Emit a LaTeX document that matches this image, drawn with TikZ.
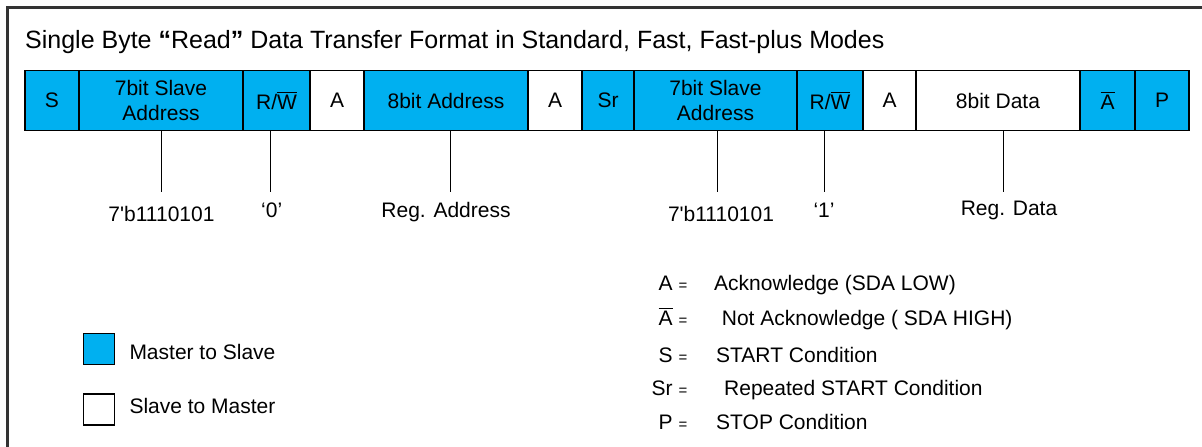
\documentclass[tikz,border=0pt]{standalone}
\usepackage{amsmath}
\usepackage{fontspec}
\setmainfont{Liberation Sans}[Ligatures=TeXOff]
\usepackage{tikz}

\definecolor{mastblue}{HTML}{00B0F0}
\newcommand{\nackbar}{\ensuremath{\overline{\mbox{A}}}}
\newcommand{\rwbar}{R/\ensuremath{\overline{\mbox{W}}}}
\newcommand{\smalleq}{{\fontsize{15}{15}\selectfont =}}

\begin{document}
\begin{tikzpicture}[x=1pt,y=-1pt,
    field/.style={draw=black, line width=1.7pt, minimum height=60pt, inner sep=0pt,
        align=center, font=\fontsize{21}{25}\selectfont},
    mfield/.style={field, fill=mastblue},
    sfield/.style={field, fill=white},
    val/.style={inner sep=0pt, anchor=base, font=\fontsize{21}{25}\selectfont}]
    \useasboundingbox (0,0) rectangle (1202,447);
    % Outer frame, cut at right and bottom
    \draw[line width=2.2pt, black!80] (7.5,470) -- (7.5,7.5) -- (1230,7.5);
    \node[anchor=base west, inner sep=0pt, font=\fontsize{25}{28}\selectfont] (title) at (25,48.5)
        {Single Byte \textbf{“}Read\textbf{”} Data Transfer Format in Standard, Fast, Fast-plus Modes};

    % Frame fields
    \node[mfield, minimum width=54]  (start) at (52,100.5)     {S};
    \node[mfield, minimum width=164] (addr1) at (161,100.5)    {7bit Slave\\Address};
    \node[mfield, minimum width=67]  (rw1)   at (276.5,100.5)  {\rwbar};
    \node[sfield, minimum width=54]  (ack1)  at (337,100.5)    {A};
    \node[mfield, minimum width=164] (reg)   at (446,100.5)    {8bit Address};
    \node[sfield, minimum width=54]  (ack2)  at (555,100.5)    {A};
    \node[mfield, minimum width=52]  (rstart) at (608,100.5)   {Sr};
    \node[mfield, minimum width=163] (addr2) at (715.5,100.5)  {7bit Slave\\Address};
    \node[mfield, minimum width=66]  (rw2)   at (830,100.5)    {\rwbar};
    \node[sfield, minimum width=53]  (ack3)  at (889.5,100.5)  {A};
    \node[sfield, minimum width=164] (data)  at (998,100.5)    {8bit Data};
    \node[mfield, minimum width=55]  (nack)  at (1107.5,100.5) {\nackbar};
    \node[mfield, minimum width=54]  (stop)  at (1162,100.5)   {P};

    % Value ticks
    \coordinate (t1) at (161.7,191.7);
    \coordinate (t2) at (270.7,191.7);
    \coordinate (t3) at (450.8,191.7);
    \coordinate (t4) at (717,191.7);
    \coordinate (t5) at (824.6,191.7);
    \coordinate (t6) at (1003.8,191.7);
    \draw[line width=1pt] (addr1.south -| t1) -- (t1);
    \draw[line width=1pt] (rw1.south -| t2) -- (t2);
    \draw[line width=1pt] (reg.south -| t3) -- (t3);
    \draw[line width=1pt] (addr2.south -| t4) -- (t4);
    \draw[line width=1pt] (rw2.south -| t5) -- (t5);
    \draw[line width=1pt] (data.south -| t6) -- (t6);
    \node[val] (v1) at (161.5,221)  {7'b1110101};
    \node[val] (v2) at (271.7,217.3) {‘0’};
    \node[val] (v3) at (446,217)    {Reg. Address};
    \node[val] (v4) at (721,221.7)  {7'b1110101};
    \node[val] (v5) at (824,217)    {‘1’};
    \node[val] (v6) at (1009,215)   {Reg. Data};

    % Legend
    \node[mfield, line width=1.3pt, minimum width=31, minimum height=31] (keym) at (98.8,348.8) {};
    \node[val, anchor=base west] (keymt) at (129.3,359.5) {Master to Slave};
    \node[sfield, line width=1.3pt, minimum width=31, minimum height=31] (keys) at (98.8,409.5) {};
    \node[val, anchor=base west] (keyst) at (129.3,413.5) {Slave to Master};

    % Symbol list
    \node[val, anchor=base east] (da)  at (687.5,290.5) {A \smalleq};
    \node[val, anchor=base west] (dat) at (714,290.5)   {Acknowledge (SDA LOW)};
    \node[val, anchor=base east] (dn)  at (687.5,325.5) {\nackbar\ \smalleq};
    \node[val, anchor=base west] (dnt) at (721.7,325.5) {Not Acknowledge ( SDA HIGH)};
    \node[val, anchor=base east] (ds)  at (687.5,362)   {S \smalleq};
    \node[val, anchor=base west] (dst) at (716,362)     {START Condition};
    \node[val, anchor=base east] (dr)  at (687.5,395.5) {Sr \smalleq};
    \node[val, anchor=base west] (drt) at (724,395.5)   {Repeated START Condition};
    \node[val, anchor=base east] (dp)  at (687.5,429)   {P \smalleq};
    \node[val, anchor=base west] (dpt) at (716,429)     {STOP Condition};
\end{tikzpicture}
\end{document}
